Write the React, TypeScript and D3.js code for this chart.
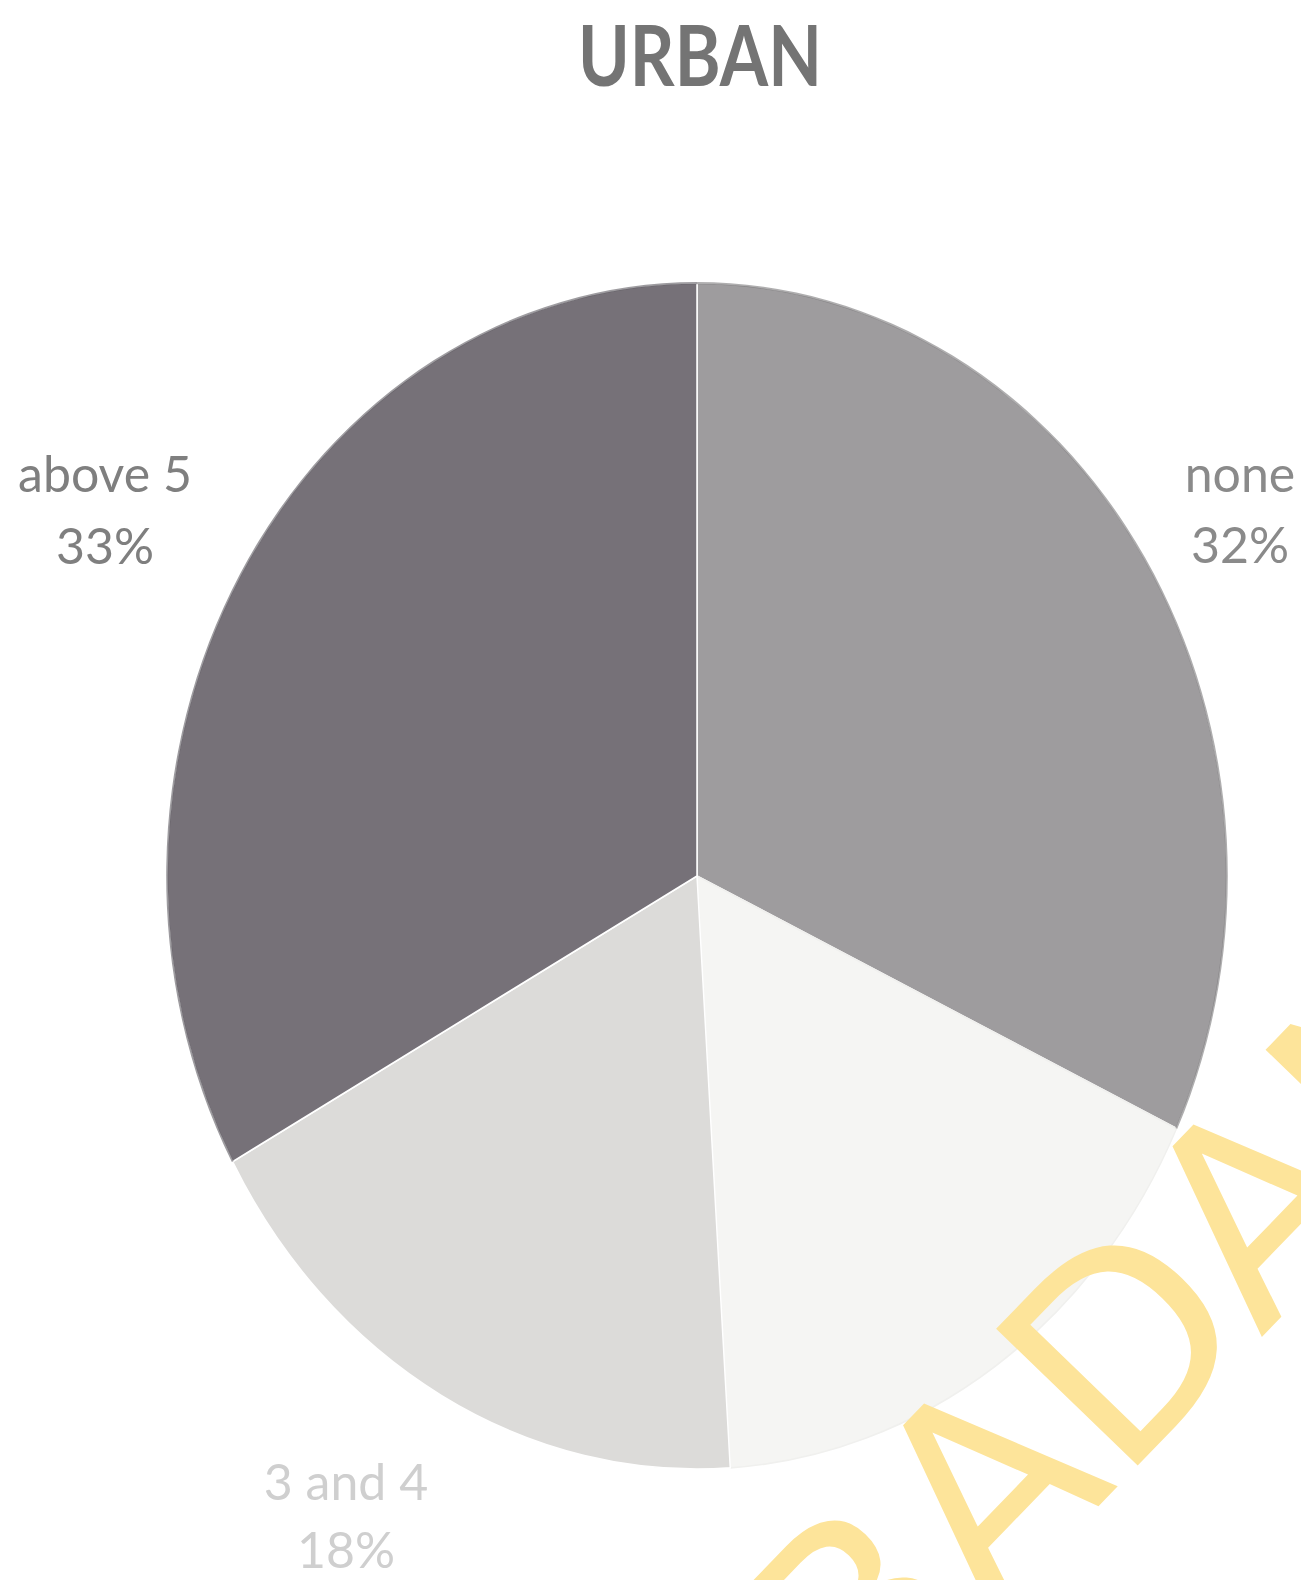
import React from "react";
import * as d3 from "d3";

const categories = ["none", "1 and 2", "3 and 4", "above 5"];
const values = [32, 17, 18, 33];
const labelText = ["32%", "17%", "18%", "33%"];
const sliceColors = ["#9e9c9e", "#f5f5f3", "#dcdbd9", "#767178"];
const title = "URBAN";

const W = 1301;
const H = 1580;
const cx = 697;
const cy = 876;
const rx = 530;
const ry = 593;

type Lbl = { idx: number; x: number; y1: number; y2: number; color: string };
const labelLayout: Lbl[] = [
  { idx: 0, x: 1240, y1: 492, y2: 563, color: "#8a8a8a" },
  { idx: 3, x: 105, y1: 492, y2: 564, color: "#7f7f7f" },
  { idx: 2, x: 346, y1: 1500, y2: 1568, color: "#cfcfcf" },
];

export default function App() {
  const pie = d3
    .pie<number>()
    .sort(null)
    .value((d) => d)
    .startAngle(0)
    .endAngle(2 * Math.PI);
  const arcs = pie(values);
  const arc = d3.arc<d3.PieArcDatum<number>>().innerRadius(0).outerRadius(rx);
  const rim = d3.arc<d3.PieArcDatum<number>>().innerRadius(rx - 1.2).outerRadius(rx + 0.8);

  return (
    <svg
      width={W}
      height={H}
      viewBox={`0 0 ${W} ${H}`}
      style={{ display: "block", position: "absolute", left: 0, top: 0, background: "#fff" }}
    >
      <rect x={0} y={0} width={W} height={H} fill="#ffffff" />
      <text
        x={700}
        y={86}
        textAnchor="middle"
        fontFamily="Lato, 'DejaVu Sans', sans-serif"
        fontWeight={700}
        fontSize={84}
        fill="#747474"
        textLength={244}
        lengthAdjust="spacingAndGlyphs"
      >
        {title}
      </text>
      <g transform={`translate(${cx},${cy}) scale(1,${ry / rx})`}>
        {arcs.map((a, i) => (
          <path
            key={categories[i]}
            d={arc(a) || ""}
            fill={sliceColors[i]}
            stroke={i === 1 ? "#f0f0ee" : "#ffffff"}
            strokeWidth={1.5}
          />
        ))}
        <path d={rim(arcs[3]) || ""} fill="#5e5a60" opacity={0.6} />
        <path d={rim(arcs[0]) || ""} fill="#7a787a" opacity={0.6} />
      </g>
      {labelLayout.map((l) => (
        <g key={categories[l.idx]} fontFamily="Lato, 'DejaVu Sans', sans-serif" fontSize={50} fill={l.color} textAnchor="middle">
          <text x={l.x} y={l.y1}>{categories[l.idx]}</text>
          <text x={l.x} y={l.y2}>{labelText[l.idx]}</text>
        </g>
      ))}
      <text
        transform="translate(807,1808) rotate(-46)"
        fontFamily="'DejaVu Sans', sans-serif"
        fontSize={270}
        fill="#fde49a"
      >
        IBADAN
      </text>
    </svg>
  );
}
